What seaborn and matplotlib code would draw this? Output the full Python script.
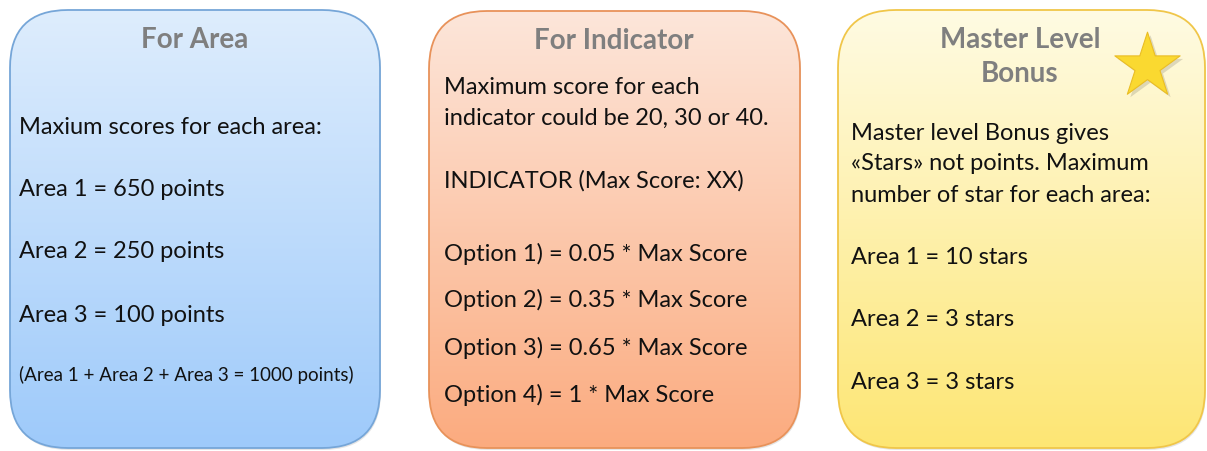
import numpy as np
import seaborn as sns
import matplotlib.pyplot as plt
from matplotlib.patches import FancyBboxPatch
from matplotlib.colors import LinearSegmentedColormap

# 박스별 텍스트
area_title = ["For Area"]
area_lines = ["Maxium scores for each area:",
              "Area 1 = 650 points",
              "Area 2 = 250 points",
              "Area 3 = 100 points"]
area_note = "(Area 1 + Area 2 + Area 3 = 1000 points)"

indicator_title = ["For Indicator"]
indicator_lines = ["Maximum score for each",
                   "indicator could be 20, 30 or 40.",
                   "INDICATOR (Max Score: XX)",
                   "Option 1) = 0.05 * Max Score",
                   "Option 2) = 0.35 * Max Score",
                   "Option 3) = 0.65 * Max Score",
                   "Option 4) = 1 * Max Score"]

bonus_title = ["Master Level", "Bonus"]
bonus_lines = ["Master level Bonus gives",
               "\u00abStars\u00bb not points. Maximum",
               "number of star for each area:",
               "Area 1 = 10 stars",
               "Area 2 = 3 stars",
               "Area 3 = 3 stars"]

sns.set_theme(style="white")
plt.rcParams['font.family'] = ['Lato', 'DejaVu Sans']

W, H = 1207, 452
fig = plt.figure(figsize=(W / 100, H / 100), dpi=100)
ax = fig.add_axes([0, 0, 1, 1])
ax.set_xlim(0, W)
ax.set_ylim(0, H)
ax.axis('off')


def Y(y):
    # 이미지 좌표(위에서 아래) -> 데이터 좌표
    return H - y


def draw_box(x0, x1, top_y, bot_y, top, bottom, edge):
    # 그라데이션 둥근 박스
    yb, yt = Y(bot_y), Y(top_y)
    style = "round,pad=0,rounding_size=58"
    shadow = FancyBboxPatch((x0 + 1, yb - 2), x1 - x0, yt - yb, boxstyle=style,
                            facecolor='#000000', alpha=0.10, edgecolor='none', zorder=1)
    ax.add_patch(shadow)
    patch = FancyBboxPatch((x0, yb), x1 - x0, yt - yb, boxstyle=style,
                           facecolor='none', edgecolor=edge, linewidth=1.3, zorder=3)
    ax.add_patch(patch)
    cmap = LinearSegmentedColormap.from_list('g', [top, bottom])
    grad = np.linspace(0, 1, 256).reshape(-1, 1)
    im = ax.imshow(grad, cmap=cmap, aspect='auto', origin='upper',
                   extent=(x0, x1, yb, yt), zorder=2)
    im.set_clip_path(patch)


draw_box(10, 380, 11, 449, '#deedfd', '#9ecafa', '#76a6d8')
draw_box(429, 800, 12, 449, '#fde6da', '#fbab7f', '#e8925a')
draw_box(838, 1205, 11, 449, '#fffbe3', '#fde674', '#f0c649')
ax.set_xlim(0, W)
ax.set_ylim(0, H)

title_kw = dict(fontsize=20, fontweight='bold', color='#7f7f7f', ha='center', va='center', zorder=5)
body_kw = dict(fontsize=17, color='#111111', ha='left', va='center', zorder=5)

# For Area
ax.text(195, Y(40), area_title[0], **title_kw)
for txt, y in zip(area_lines, [127, 190, 252, 315]):
    ax.text(19, Y(y), txt, **body_kw)
ax.text(19, Y(375), area_note, fontsize=13.5, color='#111111', ha='left', va='center', zorder=5)

# For Indicator
ax.text(614, Y(41), indicator_title[0], **title_kw)
for txt, y in zip(indicator_lines, [87, 118, 181, 254, 300, 348, 395]):
    ax.text(444, Y(y), txt, **body_kw)

# Master Level Bonus
for txt, y in zip(bonus_title, [40, 74]):
    ax.text(1020, Y(y), txt, **title_kw)
for txt, y in zip(bonus_lines, [133, 164, 195, 258, 320, 383]):
    ax.text(851, Y(y), txt, **body_kw)

# 별
ax.scatter([1150], [Y(70)], marker='*', s=2440, color='#000000', alpha=0.13, zorder=4, linewidths=0)
ax.scatter([1147], [Y(67)], marker='*', s=2440, color='#fad930', edgecolors='#eabd24', linewidths=0.8, zorder=5)

fig.savefig('out.png', dpi=100)
